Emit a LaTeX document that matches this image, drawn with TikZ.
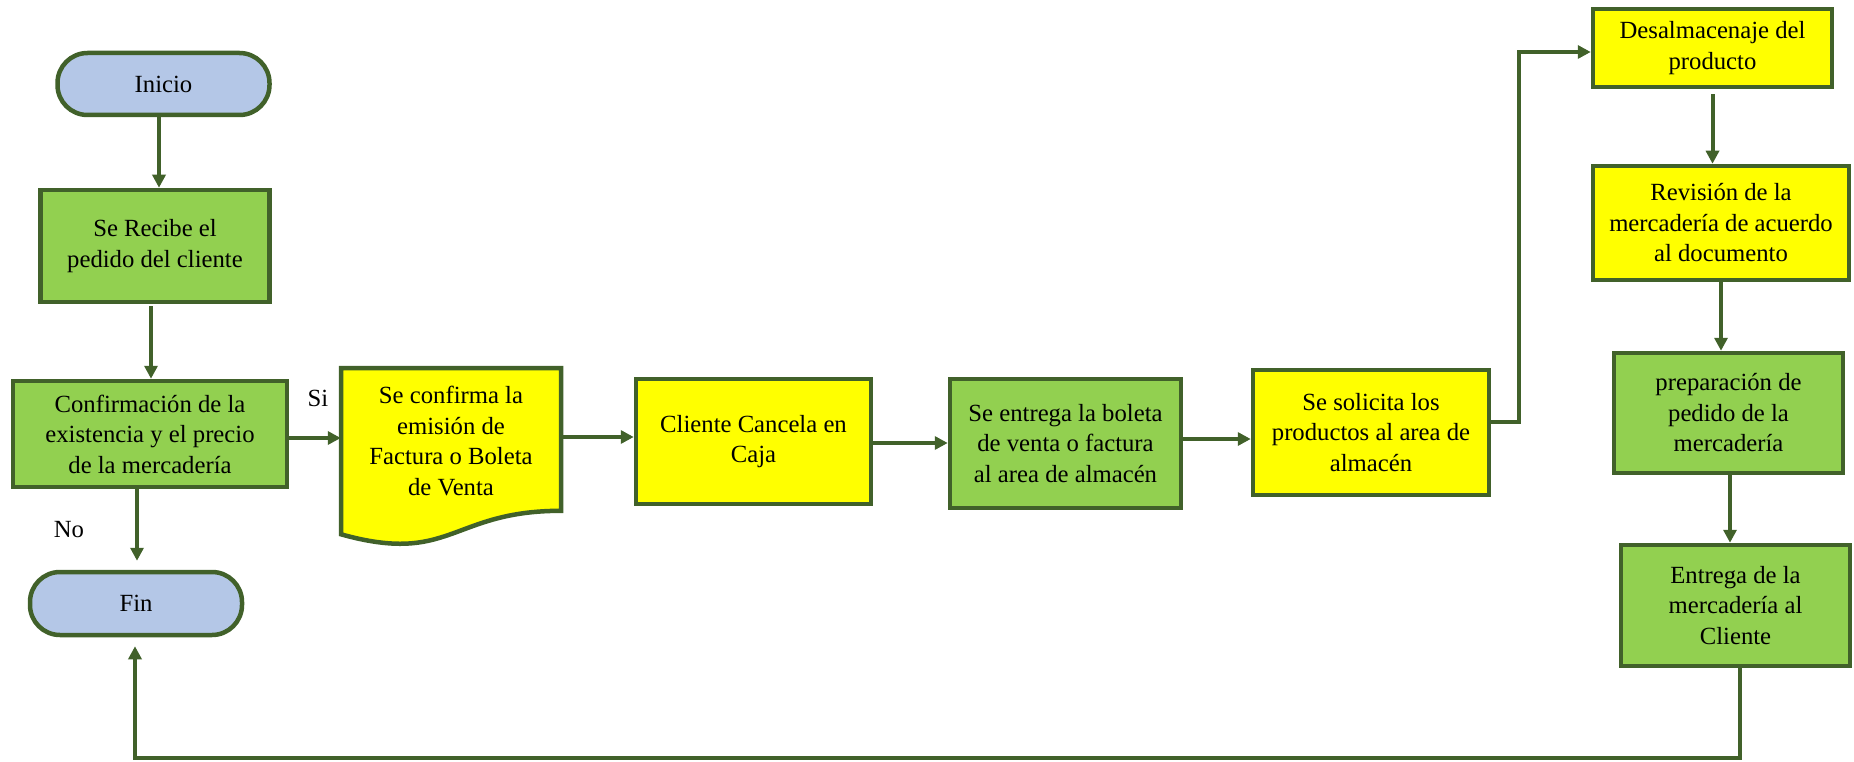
\documentclass[tikz,border=0pt]{standalone}
\usepackage{fontspec}
\setmainfont{Liberation Serif}
\usetikzlibrary{arrows.meta}
\definecolor{edge}{HTML}{41612A}
\definecolor{grn}{HTML}{92D050}
\definecolor{ylw}{HTML}{FFFF00}
\definecolor{blu}{HTML}{B4C7E7}
\begin{document}
\begin{tikzpicture}[x=1pt,y=-1pt,
  box/.style={draw=edge, line width=4.5pt, align=center, inner sep=0pt,
    font=\fontsize{24.7}{30.5}\selectfont},
  gbox/.style={box, fill=grn},
  ybox/.style={box, fill=ylw},
  term/.style={box, fill=blu, rounded corners=30pt},
  arr/.style={draw=edge, line width=4pt, -{Triangle[length=13pt,width=13pt]}},
  lbl/.style={inner sep=0pt, font=\fontsize{24.7}{30.5}\selectfont}]
\useasboundingbox (0,0) rectangle (1854,762);

% nodes
\node[term, minimum width=212pt, minimum height=62pt] (ini) at (163.5,84) {Inicio};
\node[gbox, minimum width=229pt, minimum height=112pt] (rec) at (155,246) {Se Recibe el\\pedido del cliente};
\node[gbox, minimum width=274pt, minimum height=106pt] (conf) at (150,434) {Confirmación de la\\existencia y el precio\\de la mercadería};
\node[term, minimum width=212pt, minimum height=63pt] (fin) at (136,603.5) {Fin};

% document shape
\path[draw=edge, line width=4.5pt, fill=ylw, line join=miter]
  (341,368) -- (561,368) -- (561,510.8)
  .. controls (451,510.8) and (451,565.1) .. (341,534.3) -- cycle;
\node[align=center, inner sep=0pt, minimum width=220pt, minimum height=144pt,
  font=\fontsize{24.7}{30.5}\selectfont] (doc) at (451,441)
  {Se confirma la\\emisión de\\Factura o Boleta\\de Venta};

\node[ybox, minimum width=235pt, minimum height=125pt] (cli) at (753.5,441.5) {Cliente Cancela en\\Caja};
\node[gbox, minimum width=231pt, minimum height=129pt] (bol) at (1065.5,443.5) {Se entrega la boleta\\de venta o factura\\al area de almacén};
\node[ybox, minimum width=236pt, minimum height=125pt] (sol) at (1371,432.5) {Se solicita los\\productos al area de\\almacén};
\node[ybox, minimum width=239pt, minimum height=78pt] (des) at (1712.5,48) {Desalmacenaje del\\producto};
\node[ybox, minimum width=256pt, minimum height=114pt] (rev) at (1721,223) {Revisión de la\\mercadería de acuerdo\\al documento};
\node[gbox, minimum width=229pt, minimum height=120pt] (prep) at (1728.5,413) {preparación de\\pedido de la\\mercadería};
\node[gbox, minimum width=229pt, minimum height=121pt] (ent) at (1735.5,605.5) {Entrega de la\\mercadería al\\Cliente};

% labels
\node[lbl] (si) at (318,398) {Si};
\node[lbl] (no) at (69,530) {No};

% connectors
\draw[arr] (ini.south -| 159,0) -- (rec.north -| 159,0);
\draw[arr, shorten <=2pt] (rec.south -| 151,0) -- (conf.north -| 151,0);
\draw[arr, shorten >=9pt] (conf.south -| 137,0) -- (fin.north -| 137,0);
\draw[arr] (conf.east |- 0,438) -- (doc.west |- 0,438);
\draw[arr] (doc.east |- 0,437) -- (cli.west |- 0,437);
\draw[arr] (cli.east |- 0,443) -- (bol.west |- 0,443);
\draw[arr] (bol.east |- 0,439) -- (sol.west |- 0,439);
\draw[arr] (sol.east |- 0,422) -- (1519,422) |- (des.west |- 0,52);
\draw[arr, shorten <=5pt] (des.south) -- (des.south |- rev.north);
\draw[arr] (rev.south) -- (rev.south |- prep.north);
\draw[arr] (prep.south -| 1730,0) -- (ent.north -| 1730,0);
\draw[arr, shorten >=9pt] (ent.south -| 1740,0) -- (1740,758) -| (fin.south -| 135,0);
\end{tikzpicture}
\end{document}
